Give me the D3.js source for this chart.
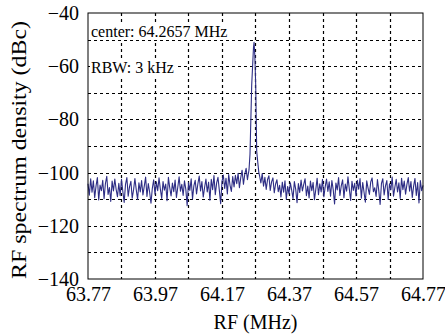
<!DOCTYPE html>
<html>
<head>
<meta charset="utf-8">
<script src="https://cdn.jsdelivr.net/npm/d3@7"></script>
<style>
  body { margin: 0; background: #fff; }
  svg { display: block; }
</style>
</head>
<body>
<div id="chart"></div>
<script>
// x axis: RF frequency (MHz)
const xTicks = [63.77, 63.97, 64.17, 64.37, 64.57, 64.77];
const xGrid = [63.87, 63.97, 64.07, 64.17, 64.27, 64.37, 64.47, 64.57, 64.67];
const yTicks = [-40, -60, -80, -100, -120, -140];
const yGrid = [-50, -60, -70, -80, -90, -100, -110, -120, -130];

// noise floor, sampled every 4 kHz from 63.77 MHz
const noiseStart = 63.77;
const noiseStep = 0.004;
const noiseLevel = [
  -104.2, -108.5, -102.3, -107.4, -103.1, -109.4, -105.0, -101.9, -110.3, -104.7,
  -106.8, -102.9, -109.8, -104.1, -101.4, -108.2, -105.6, -110.8, -103.2, -106.9,
  -102.4, -106.3, -109.1, -104.0, -108.7, -102.5, -107.1, -111.2, -104.4, -101.9,
  -108.9, -105.3, -103.3, -109.6, -106.5, -102.2, -106.4, -110.1, -103.8, -107.3,
  -103.0, -108.4, -105.1, -101.7, -109.0, -104.1, -107.4, -111.5, -105.9, -102.7,
  -108.1, -103.5, -106.8, -102.0, -106.2, -109.7, -103.4, -106.6, -104.3, -110.6,
  -101.8, -105.7, -108.8, -103.9, -107.2, -102.8, -109.3, -105.5, -101.6, -107.0,
  -104.4, -108.6, -103.1, -106.3, -112.4, -103.7, -106.7, -102.3, -109.9, -105.0,
  -102.9, -108.0, -104.2, -101.3, -106.9, -103.4, -109.2, -105.6, -102.4, -107.3,
  -103.6, -110.4, -102.5, -106.4, -101.1, -108.3, -103.9, -101.8, -106.6, -111.7,
  -103.3, -100.9, -106.0, -102.1, -108.0, -100.7, -104.8, -107.1, -101.5, -105.4,
  -101.0, -104.2, -100.3, -105.7, -101.9, -99.1, -104.4, -100.6, -98.4, -102.7,
  -101.3, -100.5, -99.0, -98.0, -97.0, -98.5, -99.5, -100.2, -101.1, -103.9,
  -100.4, -105.1, -101.8, -106.3, -102.6, -101.2, -106.7, -103.5, -102.0, -107.6,
  -104.3, -102.7, -107.2, -104.8, -109.2, -103.6, -107.4, -103.1, -110.0, -105.2,
  -108.0, -103.8, -106.6, -109.8, -103.4, -106.2, -111.3, -104.1, -107.5, -102.8,
  -106.9, -104.4, -102.3, -108.7, -105.1, -109.5, -103.2, -106.8, -103.7, -110.2,
  -106.3, -102.1, -108.3, -104.2, -107.3, -102.5, -109.1, -105.4, -102.4, -107.1,
  -103.5, -108.9, -103.0, -106.4, -111.8, -103.9, -106.5, -101.9, -108.6, -105.0,
  -102.7, -109.4, -104.3, -107.0, -101.6, -106.1, -110.5, -103.3, -106.7, -104.0,
  -108.8, -102.9, -106.2, -102.2, -109.6, -103.7, -107.4, -111.1, -103.1, -105.8,
  -108.2, -103.5, -102.0, -107.2, -105.7, -109.0, -102.6, -106.8, -112.0, -104.1,
  -102.3, -108.4, -105.0, -103.0, -110.1, -104.2, -106.5, -101.7, -108.9, -105.5,
  -102.5, -107.3, -103.8, -109.7, -102.1, -106.4, -103.2, -108.1, -104.4, -101.9,
  -107.0, -103.4, -109.3, -105.1, -102.2, -108.6, -103.7, -111.4, -103.0, -106.8,
  -104.8
];

// carrier peak
const peakFreq = [64.248, 64.2506, 64.2536, 64.2587, 64.264, 64.2657, 64.268, 64.2706, 64.2736, 64.2775, 64.280];
const peakLevel = [-101, -99, -93, -67, -53, -51, -56, -67, -92, -97, -100];

const notes = ['center: 64.2657 MHz', 'RBW: 3 kHz'];

const FONT = '"Liberation Serif"';
const W = 445, H = 334;
const margin = { top: 13, right: 22, bottom: 55, left: 88 };
const w = W - margin.left - margin.right;
const h = H - margin.top - margin.bottom;

const svg = d3.select('#chart').append('svg')
  .attr('width', W)
  .attr('height', H);

const g = svg.append('g')
  .attr('transform', `translate(${margin.left},${margin.top})`);

const x = d3.scaleLinear().domain([63.77, 64.77]).range([0, w]);
const y = d3.scaleLinear().domain([-140, -40]).range([h, 0]);

// merge noise + peak into one trace
const trace = [];
noiseLevel.forEach((v, i) => {
  const f = noiseStart + i * noiseStep;
  if (f < peakFreq[0] - 0.001 || f > peakFreq[peakFreq.length - 1] + 0.001) trace.push([f, v]);
});
peakFreq.forEach((f, i) => trace.push([f, peakLevel[i]]));
trace.sort((a, b) => a[0] - b[0]);

// grid
g.append('g').selectAll('line')
  .data(xGrid)
  .enter().append('line')
  .attr('x1', d => Math.round(x(d)) + 0.5)
  .attr('x2', d => Math.round(x(d)) + 0.5)
  .attr('y1', 0)
  .attr('y2', h)
  .attr('stroke', '#000')
  .attr('stroke-width', 1.2)
  .attr('stroke-dasharray', '3,3');

g.append('g').selectAll('line')
  .data(yGrid)
  .enter().append('line')
  .attr('x1', 0)
  .attr('x2', w)
  .attr('y1', d => Math.round(y(d)) + 0.5)
  .attr('y2', d => Math.round(y(d)) + 0.5)
  .attr('stroke', '#000')
  .attr('stroke-width', 1.2)
  .attr('stroke-dasharray', '3,3');

// spectrum
const line = d3.line()
  .x(d => x(d[0]))
  .y(d => y(d[1]));

g.append('path')
  .datum(trace)
  .attr('fill', 'none')
  .attr('stroke', '#2e2e85')
  .attr('stroke-width', 1.1)
  .attr('stroke-linejoin', 'round')
  .attr('d', line);

// annotations with white boxes
const noteY = [24, 60];
notes.forEach((t, i) => {
  const txt = g.append('text')
    .attr('x', 3)
    .attr('y', noteY[i])
    .style('font-family', FONT)
    .style('font-size', '16px')
    .text(t);
  const bb = txt.node().getBBox();
  g.insert('rect', 'text')
    .attr('x', bb.x - 1)
    .attr('y', bb.y + 2)
    .attr('width', bb.width + 2)
    .attr('height', bb.height - 2)
    .attr('fill', '#fff');
});

// frame
g.append('rect')
  .attr('width', w)
  .attr('height', h)
  .attr('fill', 'none')
  .attr('stroke', '#000')
  .attr('stroke-width', 1);

// axes labels
const xAxis = d3.axisBottom(x).tickValues(xTicks).tickSize(0).tickPadding(8)
  .tickFormat(d3.format('.2f'));
g.append('g')
  .attr('transform', `translate(0,${h})`)
  .call(xAxis)
  .call(s => s.select('.domain').remove())
  .selectAll('text')
  .style('font-family', FONT)
  .style('font-size', '20px')
  .attr('fill', '#000');

const yAxis = d3.axisLeft(y).tickValues(yTicks).tickSize(0).tickPadding(9)
  .tickFormat(d => '\u2212' + Math.abs(d));
g.append('g')
  .call(yAxis)
  .call(s => s.select('.domain').remove())
  .selectAll('text')
  .style('font-family', FONT)
  .style('font-size', '20px')
  .attr('fill', '#000');

svg.append('text')
  .attr('x', margin.left + w / 2)
  .attr('y', 329)
  .attr('text-anchor', 'middle')
  .style('font-family', FONT)
  .style('font-size', '20px')
  .text('RF (MHz)');

svg.append('text')
  .attr('transform', `translate(26,${margin.top + h / 2 + 4}) rotate(-90)`)
  .attr('text-anchor', 'middle')
  .style('font-family', FONT)
  .style('font-size', '20px')
  .attr('textLength', 258)
  .attr('lengthAdjust', 'spacingAndGlyphs')
  .text('RF spectrum density (dBc)');
</script>
</body>
</html>
